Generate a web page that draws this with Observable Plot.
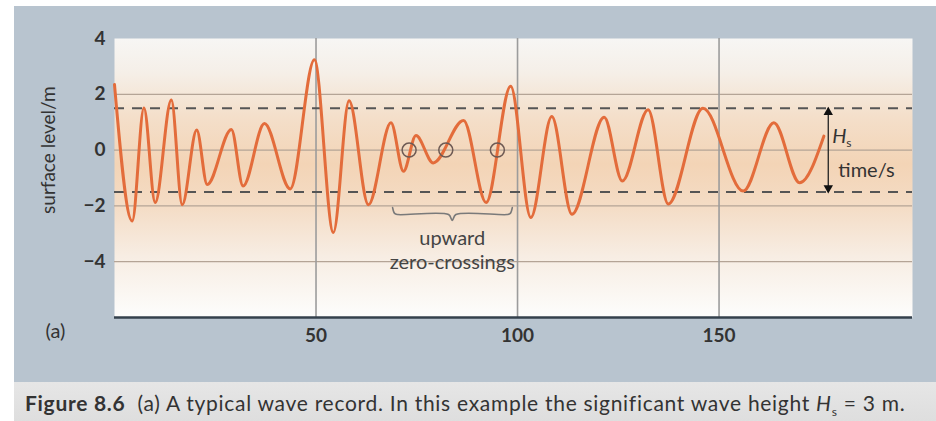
<!DOCTYPE html>
<html><head><meta charset="utf-8">
<script src="https://cdn.jsdelivr.net/npm/d3@7"></script>
<script src="https://cdn.jsdelivr.net/npm/@observablehq/plot@0.6"></script>
<style>
html,body{margin:0;padding:0;background:#fff;}
#wrap{position:relative;width:936px;height:421px;overflow:hidden;font-family:Lato,"Open Sans",sans-serif;}
#panel{position:absolute;left:14px;top:6px;width:922px;height:376px;background:#b8c4cf;}
#cap{position:absolute;left:14px;top:382px;width:922px;height:39px;background:linear-gradient(#e6e6e6,#dedede);}
#chart{position:absolute;left:0;top:0;}
#captext{position:absolute;left:25px;top:390px;font-size:21px;line-height:25px;color:#333;white-space:nowrap;}
#captext sub{font-size:12px;line-height:0;}
</style></head>
<body>
<div id="wrap"><div id="panel"></div><div id="cap"></div><div id="chart"></div>
<div id="captext"><b>Figure 8.6</b>&nbsp; (a) A typical wave record. In this example the significant wave height <i>H</i><sub>s</sub> = 3 m.</div></div>
<script>
// Wave record: successive crests and troughs (time in s, surface level in m)
const waveTime  = [0,4.4,7.3,10.1,14.1,16.8,20.4,23.0,29.0,31.9,37.2,43.6,49.6,54.3,58.2,63.0,68.6,71.7,74.8,79.1,86.6,92.2,98.3,103.3,108.5,113.5,121.5,126.0,132.4,137.4,146.0,156.0,163.6,170.0,176.0];
const waveLevel = [2.35,-2.54,1.51,-1.88,1.80,-1.96,0.72,-1.23,0.74,-1.29,0.95,-1.39,3.24,-2.95,1.77,-1.96,0.98,-0.76,0.52,-0.46,1.06,-1.88,2.29,-2.42,1.20,-2.30,1.18,-1.11,1.45,-1.93,1.50,-1.47,0.98,-1.17,0.50];
const xTicks = [50, 100, 150];
const yTicks = [-4, -2, 0, 2, 4];
const yGrid = [-4, -2, 0, 2];
const hsLevels = [-1.5, 1.5];          // significant wave height band, Hs = 3 m
const zeroCrossings = [73.1, 82.2, 95.0];
const braceSpan = [69.0, 98.7];
const braceTip = 83.8;
const braceLevels = [-2.06, -2.31, -2.52];
const noteLines = ["upward", "zero-crossings"];
const noteLevels = [-3.17, -4.03];
const hsArrowTime = 177.1;
const hsLabelTime = 178.1, hsLabelLevel = 0.49;
const timeLabelTime = 179.6, timeLabelLevel = -0.73;

const wave = waveTime.map((t, i) => ({t, v: waveLevel[i]}));
const [b0, b1] = braceSpan, [bEnd, bMid, bTip] = braceLevels;
const brace = [
  [b0, bEnd], [b0 + 0.5, bMid + 0.04], [b0 + 1.3, bMid], [braceTip - 0.9, bMid], [braceTip, bTip],
  [braceTip + 0.9, bMid], [b1 - 1.3, bMid], [b1 - 0.5, bMid + 0.04], [b1, bEnd]
].map(([t, v]) => ({t, v}));
const notes = noteLines.map((s, i) => ({s, v: noteLevels[i]}));

const gradient = () => {
  const defs = d3.create("svg:defs");
  const g = defs.append("linearGradient").attr("id", "bgGrad").attr("x1", 0).attr("y1", 0).attr("x2", 0).attr("y2", 1);
  [[0, "#f7f6f4"], [0.12, "#f5efe8"], [0.28, "#f4dfca"], [0.45, "#f3d4b6"], [0.6, "#f4dcc5"], [0.78, "#f7ede3"], [1, "#fdfdfc"]]
    .forEach(([o, c]) => g.append("stop").attr("offset", o).attr("stop-color", c));
  return defs.node();
};

const chart = Plot.plot({
  width: 936, height: 382,
  marginLeft: 114, marginRight: 24, marginTop: 38, marginBottom: 65,
  style: {fontFamily: "Lato, 'Open Sans', sans-serif", background: "transparent", color: "#333"},
  x: {domain: [0, 198]},
  y: {domain: [-6, 4]},
  marks: [
    gradient,
    Plot.frame({fill: "url(#bgGrad)"}),
    Plot.ruleY(yGrid, {stroke: "#b4a496", strokeWidth: 1.3}),
    Plot.ruleX(xTicks, {stroke: "#9c9c9c", strokeWidth: 1.6}),
    Plot.ruleY(hsLevels, {stroke: "#555", strokeWidth: 2, strokeDasharray: "10,8"}),
    Plot.ruleY([-6], {stroke: "#34414c", strokeWidth: 2.5}),
    Plot.line(wave, {x: "t", y: "v", curve: "monotone-x", stroke: "#e36c3b", strokeWidth: 3}),
    Plot.dot(zeroCrossings, {x: d => d, y: 0, r: 7, stroke: "#6e5a54", strokeWidth: 1.5, fill: "none"}),
    Plot.line(brace, {x: "t", y: "v", curve: "catmull-rom", stroke: "#7a7a7a", strokeWidth: 1.6}),
    Plot.text(notes, {x: braceTip, y: "v", text: "s", fontSize: 20, fill: "#444", ariaLabel: "note"}),
    Plot.ruleX([hsArrowTime], {y1: hsLevels[0], y2: hsLevels[1], stroke: "#222", strokeWidth: 1.3}),
    Plot.dot([hsLevels[1]], {x: hsArrowTime, y: d => d, symbol: "triangle", r: 3.5, fill: "#111", dy: 4}),
    Plot.dot([hsLevels[0]], {x: hsArrowTime, y: d => d, symbol: "triangle", rotate: 180, r: 3.5, fill: "#111", dy: -4}),
    Plot.text(["H"], {x: hsLabelTime, y: hsLabelLevel, text: d => d, textAnchor: "start", fontSize: 20, fontStyle: "italic", fill: "#333"}),
    Plot.text(["s"], {x: hsLabelTime, y: hsLabelLevel, text: d => d, textAnchor: "start", fontSize: 12, dx: 14, dy: 7, fill: "#333"}),
    Plot.text(["time/s"], {x: timeLabelTime, y: timeLabelLevel, text: d => d, textAnchor: "start", fontSize: 20, fill: "#333", ariaLabel: "timelabel"}),
    Plot.axisY({ticks: yTicks, tickSize: 0, tickPadding: 9, fontSize: 19, label: null, fill: "#333"}),
    Plot.axisX({ticks: xTicks, tickSize: 0, tickPadding: 11, fontSize: 19, label: null, fill: "#333"}),
    Plot.text(["surface level/m"], {frameAnchor: "left", y: 0, dx: -66, rotate: -90, textAnchor: "middle", text: d => d, fontSize: 19, fill: "#333", ariaLabel: "ylabel"}),
    Plot.text(["(a)"], {frameAnchor: "bottom-left", dx: -59, dy: 20, textAnchor: "middle", text: d => d, fontSize: 20, fill: "#333", ariaLabel: "panel"})
  ]
});
document.getElementById("chart").appendChild(chart);

// typographic finishing: bold tick labels and widths matched to the printed figure
const svg = d3.select(chart);
svg.selectAll('g[aria-label$="tick label"]').attr("font-weight", "bold");
const fit = (sel, widths) => svg.selectAll(sel).each(function(d, i) {
  const w = widths[i]; if (w) d3.select(this).attr("textLength", w).attr("lengthAdjust", "spacing");
});
fit('g[aria-label="ylabel"] text', [150]);
fit('g[aria-label="note"] text', [75, 147]);
fit('g[aria-label="timelabel"] text', [64]);
const cap = document.getElementById("captext");
const target = 880;
const w0 = cap.getBoundingClientRect().width;
const n = cap.textContent.length;
cap.style.letterSpacing = ((target - w0) / n).toFixed(3) + "px";
</script>
</body></html>
